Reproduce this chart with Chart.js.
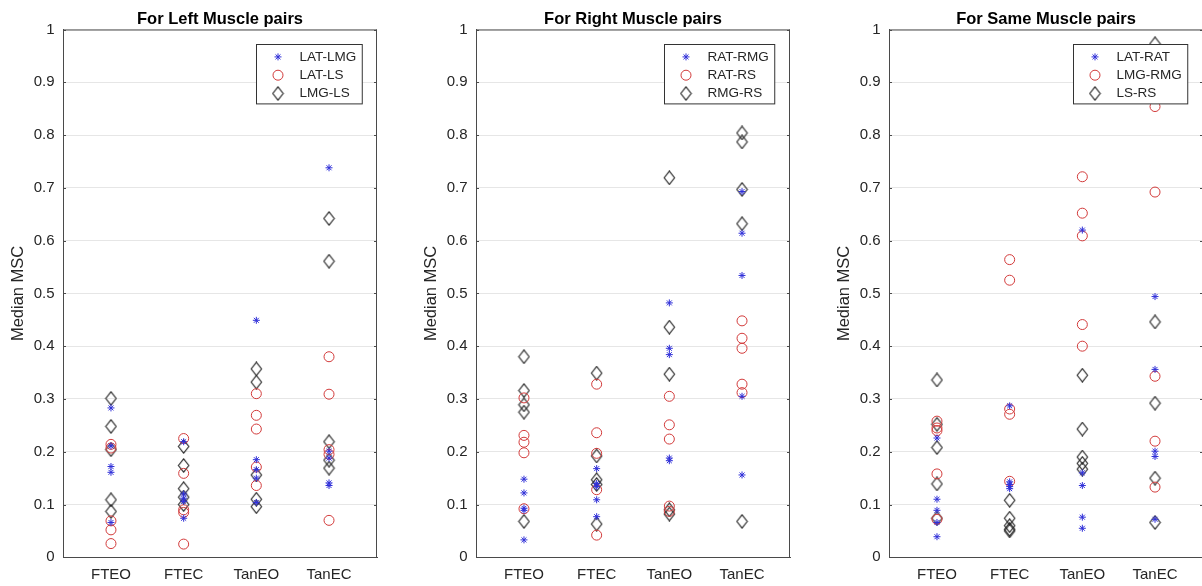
<!DOCTYPE html>
<html>
<head>
<meta charset="utf-8">
<script src="https://cdn.jsdelivr.net/npm/chart.js@4.4.1/dist/chart.umd.min.js"></script>
<style>
  html, body { margin: 0; padding: 0; background: #fff; width: 1202px; height: 586px; overflow: hidden; }
  .panel { position: absolute; top: 0; }
</style>
</head>
<body>
<div class="panel" style="left:0px"><canvas id="left" width="397" height="586"></canvas></div>
<div class="panel" style="left:413px"><canvas id="right" width="397" height="586"></canvas></div>
<div class="panel" style="left:826px"><canvas id="same" width="397" height="586"></canvas></div>
<script>
const categories = ["FTEO", "FTEC", "TanEO", "TanEC"];
const yTicks = [0, 0.1, 0.2, 0.3, 0.4, 0.5, 0.6, 0.7, 0.8, 0.9, 1];

// one inner list per category: FTEO, FTEC, TanEO, TanEC
const leftLatLmg = [[0.283, 0.211, 0.172, 0.161, 0.066], [0.219, 0.120, 0.112, 0.106, 0.074], [0.449, 0.185, 0.166, 0.150, 0.104], [0.738, 0.201, 0.188, 0.141, 0.136]];
const leftLatLs  = [[0.214, 0.207, 0.069, 0.052, 0.026], [0.225, 0.159, 0.090, 0.085, 0.025], [0.310, 0.269, 0.243, 0.171, 0.136], [0.380, 0.309, 0.204, 0.195, 0.070]];
const leftLmgLs  = [[0.301, 0.248, 0.204, 0.109, 0.087], [0.210, 0.174, 0.130, 0.114, 0.100], [0.357, 0.332, 0.156, 0.110, 0.096], [0.642, 0.561, 0.219, 0.184, 0.169]];

const rightRatRmg = [[0.148, 0.122, 0.093, 0.089, 0.033], [0.168, 0.140, 0.134, 0.109, 0.077], [0.482, 0.396, 0.384, 0.188, 0.183], [0.693, 0.614, 0.534, 0.305, 0.156]];
const rightRatRs  = [[0.302, 0.231, 0.218, 0.198, 0.092], [0.328, 0.236, 0.197, 0.128, 0.042], [0.305, 0.251, 0.224, 0.097, 0.087], [0.448, 0.415, 0.396, 0.328, 0.312]];
const rightRmgRs  = [[0.380, 0.316, 0.289, 0.275, 0.068], [0.349, 0.192, 0.147, 0.138, 0.063], [0.719, 0.436, 0.347, 0.090, 0.082], [0.804, 0.787, 0.697, 0.632, 0.068]];

const sameLatRat = [[0.226, 0.110, 0.089, 0.066, 0.039], [0.287, 0.143, 0.138, 0.134, 0.130], [0.620, 0.160, 0.136, 0.076, 0.055], [0.494, 0.356, 0.201, 0.191, 0.072]];
const sameLmgRmg = [[0.258, 0.245, 0.240, 0.158, 0.072], [0.564, 0.525, 0.281, 0.271, 0.144], [0.721, 0.652, 0.609, 0.441, 0.400], [0.854, 0.692, 0.343, 0.220, 0.133]];
const sameLsRs   = [[0.336, 0.252, 0.208, 0.139, 0.074], [0.108, 0.074, 0.060, 0.053, 0.050], [0.345, 0.243, 0.190, 0.178, 0.167], [0.973, 0.446, 0.292, 0.150, 0.066]];

const FONT = 'Arial, "Liberation Sans", Helvetica, sans-serif';
const TEXT = "#262626";
const STAR = "#2f2fd8";
const RED = "#d23a3a";
const DARK = "#262626";

Chart.defaults.font.family = FONT;
Chart.defaults.color = TEXT;

// matlab-ish 'd' marker, a bit taller than wide
function diamondMarker(){
  const c = document.createElement("canvas");
  c.width = 13; c.height = 15;
  const g = c.getContext("2d");
  g.strokeStyle = DARK;
  g.lineWidth = 1.1;
  g.beginPath();
  g.moveTo(6.5, 0.8);
  g.lineTo(11.7, 7.5);
  g.lineTo(6.5, 14.2);
  g.lineTo(1.3, 7.5);
  g.closePath();
  g.stroke();
  return c;
}
const diamond = diamondMarker();

const markers = [
  { pointStyle: "star", radius: 3.5, color: STAR },
  { pointStyle: "circle", radius: 5, color: RED },
  { pointStyle: diamond, radius: 6, color: DARK }
];

function toPoints(series){
  const pts = [];
  series.forEach((vals, i) => {
    for(const v of vals) pts.push({ x: i + 1, y: v });
  });
  return pts;
}

// box, inward ticks and the legend inside the axes
const framePlugin = {
  id: "frame",
  afterDraw(chart){
    const { ctx, chartArea: a } = chart;
    const ys = chart.scales.y;
    ctx.save();
    ctx.strokeStyle = "#4a4a4a";
    ctx.lineWidth = 1;
    ctx.beginPath();
    ctx.moveTo(a.left, a.top + 0.5);
    ctx.lineTo(a.right, a.top + 0.5);
    ctx.moveTo(a.right - 0.5, a.top);
    ctx.lineTo(a.right - 0.5, a.bottom);
    for(const t of ys.ticks){
      const y = Math.round(ys.getPixelForValue(t.value)) + 0.5;
      ctx.moveTo(a.left, y); ctx.lineTo(a.left + 3, y);
      ctx.moveTo(a.right, y); ctx.lineTo(a.right - 3, y);
    }
    ctx.stroke();

    const names = chart.data.datasets.map(d => d.label);
    ctx.font = "13.5px " + FONT;
    const tw = Math.max(...names.map(n => ctx.measureText(n).width));
    const w = 43 + tw + 6;
    const h = 59.4;
    const x0 = Math.round(a.right - 15.5 - w) + 0.5;
    const y0 = Math.round(a.top + 14.8) + 0.5;
    ctx.fillStyle = "#fff";
    ctx.fillRect(x0, y0, w, h);
    ctx.strokeStyle = "#333";
    ctx.strokeRect(x0, y0, w, h);
    names.forEach((n, i) => {
      const cy = y0 + 12.4 + i * 18.3;
      const m = markers[i];
      ctx.strokeStyle = m.color;
      ctx.fillStyle = "rgba(0,0,0,0)";
      ctx.lineWidth = 1;
      Chart.helpers.drawPoint(ctx, { pointStyle: m.pointStyle, radius: m.radius, borderWidth: 1, rotation: 0 }, x0 + 21.5, cy);
      ctx.fillStyle = TEXT;
      ctx.textBaseline = "middle";
      ctx.textAlign = "left";
      ctx.fillText(n, x0 + 43, cy);
    });
    ctx.restore();
  }
};

function makePanel(id, title, names, seriesList){
  const datasets = seriesList.map((s, i) => ({
    label: names[i],
    data: toPoints(s),
    showLine: false,
    pointStyle: markers[i].pointStyle,
    pointRadius: markers[i].radius,
    pointHoverRadius: markers[i].radius,
    borderColor: markers[i].color,
    backgroundColor: "rgba(0,0,0,0)",
    pointBorderWidth: 1
  }));

  return new Chart(document.getElementById(id), {
    type: "scatter",
    data: { datasets },
    plugins: [framePlugin],
    options: {
      responsive: false,
      animation: false,
      events: [],
      layout: { padding: { left: 0, right: 20, top: 0, bottom: 0 } },
      plugins: {
        legend: { display: false },
        tooltip: { enabled: false },
        title: {
          display: true,
          text: title,
          fullSize: false,
          color: "#000",
          font: { size: 16.5, weight: "bold" },
          padding: { top: 9.5, bottom: 0.2 }
        }
      },
      scales: {
        x: {
          type: "linear",
          min: 0.34,
          max: 4.66,
          grid: { display: false, drawTicks: false },
          border: { display: true, color: "#4a4a4a" },
          afterBuildTicks: (scale) => { scale.ticks = categories.map((c, i) => ({ value: i + 1 })); },
          afterFit: (scale) => { scale.height = 28.7; },
          ticks: {
            autoSkip: false,
            maxRotation: 0,
            padding: 9,
            color: TEXT,
            font: { size: 15 },
            callback: (v) => categories[v - 1] ?? ""
          }
        },
        y: {
          min: 0,
          max: 1,
          grid: { color: "#e6e6e6", drawTicks: false },
          border: { display: true, color: "#4a4a4a" },
          afterBuildTicks: (scale) => { scale.ticks = yTicks.map(v => ({ value: v })); },
          afterFit: (scale) => { scale.width = 63; },
          ticks: {
            padding: 8.5,
            color: TEXT,
            font: { size: 15 },
            callback: (v) => (v === 0 || v === 1) ? String(v) : v.toFixed(1)
          },
          title: {
            display: true,
            text: "Median MSC",
            color: TEXT,
            font: { size: 16.5 },
            padding: { top: 9, bottom: 0 }
          }
        }
      }
    }
  });
}

makePanel("left", "For Left Muscle pairs", ["LAT-LMG", "LAT-LS", "LMG-LS"], [leftLatLmg, leftLatLs, leftLmgLs]);
makePanel("right", "For Right Muscle pairs", ["RAT-RMG", "RAT-RS", "RMG-RS"], [rightRatRmg, rightRatRs, rightRmgRs]);
makePanel("same", "For Same Muscle pairs", ["LAT-RAT", "LMG-RMG", "LS-RS"], [sameLatRat, sameLmgRmg, sameLsRs]);
</script>
</body>
</html>
